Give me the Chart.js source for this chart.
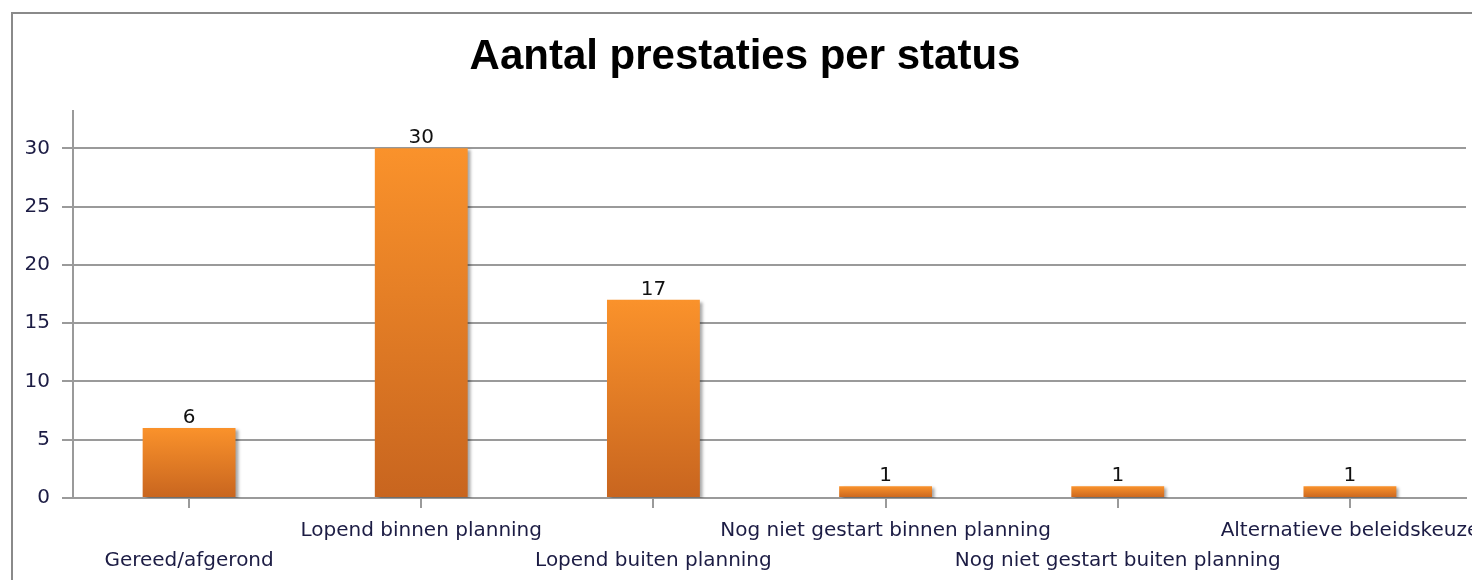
<!DOCTYPE html>
<html>
<head>
<meta charset="utf-8">
<script src="https://cdn.jsdelivr.net/npm/chart.js@4/dist/chart.umd.min.js"></script>
<style>
  html, body { margin: 0; padding: 0; background: #fff; }
  #wrap { width: 1472px; height: 580px; }
</style>
</head>
<body>
<div id="wrap"><canvas id="chart" width="1472" height="580"></canvas></div>
<script>
// data
const statusLabels = [
  'Gereed/afgerond',
  'Lopend binnen planning',
  'Lopend buiten planning',
  'Nog niet gestart binnen planning',
  'Nog niet gestart buiten planning',
  'Alternatieve beleidskeuze'
];
const prestatieCounts = [6, 30, 17, 1, 1, 1];
const yTicks = [0, 5, 10, 15, 20, 25, 30];

const gridGrey = '#9a9a9a';
const labelInk = '#1c1c44';

// frame around the whole picture (only left + top are visible)
const framePlugin = {
  id: 'frame',
  beforeDraw(chart) {
    const ctx = chart.ctx;
    ctx.save();
    ctx.fillStyle = '#fff';
    ctx.fillRect(0, 0, chart.width, chart.height);
    ctx.strokeStyle = '#8a8a8a';
    ctx.lineWidth = 2;
    ctx.strokeRect(12, 13, chart.width + 40, chart.height + 40);
    ctx.restore();
  }
};

// soft grey shadow to the right of the bars
const shadowPlugin = {
  id: 'barShadow',
  beforeDatasetsDraw(chart) {
    const ctx = chart.ctx;
    ctx.save();
    ctx.shadowColor = 'rgba(0,0,0,0.35)';
    ctx.shadowOffsetX = 3;
    ctx.shadowOffsetY = 2;
    ctx.shadowBlur = 3;
  },
  afterDatasetsDraw(chart) {
    chart.ctx.restore();
  }
};

// numbers above the bars
const valueLabels = {
  id: 'valueLabels',
  afterDraw(chart) {
    const ctx = chart.ctx;
    const meta = chart.getDatasetMeta(0);
    ctx.save();
    ctx.font = '20px "DejaVu Sans"';
    ctx.fillStyle = '#111';
    ctx.textAlign = 'center';
    ctx.textBaseline = 'alphabetic';
    meta.data.forEach((bar, i) => {
      ctx.fillText(String(prestatieCounts[i]), bar.x, bar.y - 5);
    });
    ctx.restore();
  }
};

function barGradient(context) {
  const chart = context.chart;
  if (!chart.chartArea || !chart.scales.y) return '#ee8528';
  const y = chart.scales.y;
  const top = y.getPixelForValue(context.raw);
  const bottom = y.getPixelForValue(0);
  const g = chart.ctx.createLinearGradient(0, top, 0, bottom);
  g.addColorStop(0, '#fa922b');
  g.addColorStop(1, '#c8651f');
  return g;
}

new Chart(document.getElementById('chart'), {
  type: 'bar',
  data: {
    labels: statusLabels,
    datasets: [{
      label: 'Aantal',
      data: prestatieCounts,
      backgroundColor: barGradient,
      borderWidth: 0,
      barPercentage: 0.4,
      categoryPercentage: 1
    }]
  },
  options: {
    responsive: false,
    animation: false,
    layout: { padding: { left: 24, right: 6, top: 0, bottom: 0 } },
    plugins: {
      legend: { display: false },
      tooltip: { enabled: false },
      title: {
        display: true,
        text: 'Aantal prestaties per status',
        color: '#000',
        font: { family: '"Liberation Sans", Arial, sans-serif', size: 42, weight: 'bold', lineHeight: 1.2 },
        padding: { top: 32, bottom: 28.6 }
      }
    },
    scales: {
      x: {
        grid: {
          display: true,
          drawOnChartArea: false,
          drawTicks: true,
          tickLength: 10,
          offset: false,
          color: gridGrey,
          lineWidth: 2
        },
        border: { display: true, color: gridGrey, width: 2 },
        ticks: {
          autoSkip: false,
          maxRotation: 0,
          minRotation: 0,
          padding: 8,
          color: labelInk,
          font: { family: '"DejaVu Sans", sans-serif', size: 20, lineHeight: 1.5 },
          callback: (v, i) => (i % 2 === 0 ? ['', statusLabels[i]] : statusLabels[i])
        },
        afterFit(scale) {
          scale.height = 82;
          scale.paddingLeft = 0;
          scale.paddingRight = 0;
        }
      },
      y: {
        min: 0,
        max: 33.2,
        afterBuildTicks(scale) {
          scale.ticks = yTicks.map(v => ({ value: v }));
        },
        grid: {
          color: gridGrey,
          lineWidth: 2,
          drawTicks: true,
          tickLength: 11
        },
        border: { display: true, color: gridGrey, width: 2 },
        ticks: {
          padding: 12,
          color: labelInk,
          font: { family: '"DejaVu Sans", sans-serif', size: 20 }
        },
        afterFit(scale) {
          scale.width = 49;
        }
      }
    }
  },
  plugins: [framePlugin, shadowPlugin, valueLabels]
});
</script>
</body>
</html>
